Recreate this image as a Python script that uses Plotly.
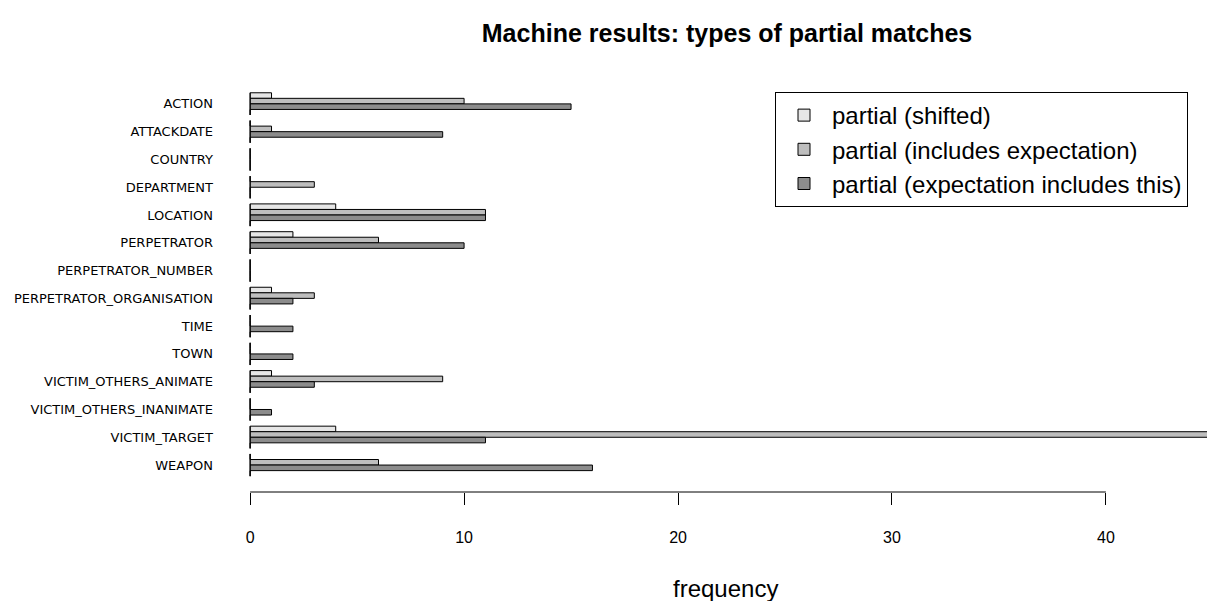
import plotly.graph_objects as go

categories = ["ACTION", "ATTACKDATE", "COUNTRY", "DEPARTMENT", "LOCATION", "PERPETRATOR",
              "PERPETRATOR_NUMBER", "PERPETRATOR_ORGANISATION", "TIME", "TOWN",
              "VICTIM_OTHERS_ANIMATE", "VICTIM_OTHERS_INANIMATE", "VICTIM_TARGET", "WEAPON"]
shifted = [1, 0, 0, 0, 4, 2, 0, 1, 0, 0, 1, 0, 4, 0]
includes_expectation = [10, 1, 0, 3, 11, 6, 0, 3, 0, 0, 9, 0, 47, 6]
expectation_includes = [15, 9, 0, 0, 11, 10, 0, 2, 2, 2, 3, 1, 11, 16]
empty_slot = [0] * len(categories)

series_names = ["partial (shifted)", "partial (includes expectation)",
                "partial (expectation includes this)"]
series_colors = ["#e6e6e6", "#bebebe", "#8c8c8c"]
x_ticks = [0, 10, 20, 30, 40]

W, H = 1207, 593  # page has an 8px body margin

idx = list(range(len(categories)))
fig = go.Figure()
for name, vals, col in zip(series_names, [shifted, includes_expectation, expectation_includes], series_colors):
    fig.add_trace(go.Bar(y=idx, x=vals, orientation="h", name=name,
                         marker=dict(color=col, line=dict(color="black", width=1))))
fig.add_trace(go.Bar(y=idx, x=empty_slot, orientation="h", showlegend=False,
                     marker=dict(color="white", line=dict(color="black", width=1)), hoverinfo="skip"))

# zero baseline per group (R draws borders of zero-length bars)
lx, ly = [], []
for i in idx:
    lx += [0, 0, None]
    ly += [i - 0.4, i + 0.4, None]
fig.add_trace(go.Scatter(x=lx, y=ly, mode="lines", line=dict(color="black", width=1),
                         showlegend=False, hoverinfo="skip"))

# axis line from first to last tick
fig.add_shape(type="line", xref="x", yref="paper", x0=x_ticks[0], x1=x_ticks[-1], y0=0, y1=0,
              line=dict(color="black", width=1))

fig.add_annotation(text="frequency", xref="paper", yref="paper", x=0.4938, y=-96 / 402,
                   xanchor="center", yanchor="middle", showarrow=False,
                   font=dict(size=24, color="black"))

fig.update_layout(
    width=W, height=H,
    margin=dict(l=240, r=0, t=82, b=109, autoexpand=False),
    paper_bgcolor="white", plot_bgcolor="white",
    barmode="group", bargap=0.2, bargroupgap=0,
    font=dict(family="Liberation Sans, Arial, sans-serif", color="black"),
    title=dict(text="<b>Machine results: types of partial matches</b>", x=719 / W, xanchor="center",
               y=1 - 25 / H, yanchor="middle", font=dict(size=25, color="black")),
    legend=dict(x=0.545, y=0.995, xanchor="left", yanchor="top", bordercolor="black", borderwidth=1,
                bgcolor="white", font=dict(size=24, color="black"), traceorder="normal",
                tracegroupgap=0, itemwidth=46),
    showlegend=True,
)
fig.update_xaxes(range=[-0.1, 45.1], tickvals=x_ticks, ticks="outside", ticklen=12, tickcolor="black",
                 showline=False, showgrid=False, zeroline=False, ticklabelstandoff=19,
                 tickfont=dict(family="Liberation Sans Narrow, Liberation Sans, sans-serif",
                               size=16, color="black"))
fig.update_yaxes(range=[13.97, -0.5], tickvals=idx, ticktext=categories, showgrid=False, zeroline=False,
                 showline=False, ticks="", ticklabelstandoff=34,
                 tickfont=dict(family="DejaVu Sans, sans-serif", size=13, color="black"))

fig.write_html("out.html")
